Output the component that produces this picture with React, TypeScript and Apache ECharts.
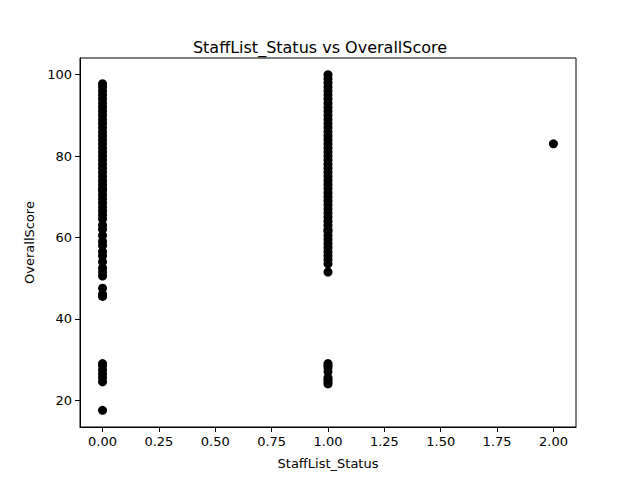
import { useEffect, useRef } from 'react'
import * as echarts from 'echarts'

const status0Scores = [
  17.5, 24.5, 25.5, 26.5, 27.5, 28.5, 29, 45.5, 46, 47.5, 50.5, 51.5, 52.5, 54,
  55.5, 56.5, 58, 59, 60.5, 62, 63, 64.5, 65.5, 66.5, 67.5, 68.5, 69.5, 70.5,
  71.5, 72, 73, 74, 75, 76, 77, 78, 79, 80, 81, 82, 83, 84, 85, 86, 87, 88, 89,
  90, 91, 92, 93, 94, 95, 96, 97, 97.8
]
const status1Scores = [
  24, 24.5, 25, 25.5, 27, 28, 28.5, 29, 51.5, 53.5, 54.5, 55.5, 56.5, 57.5,
  58.5, 59.5, 60.5, 61.5, 62, 63, 64, 65, 66, 67, 68, 69, 70, 71, 72, 73, 74,
  75, 76, 77, 78, 79, 80, 81, 82, 83, 84, 85, 86, 87, 88, 89, 90, 91, 92, 93,
  94, 95, 96, 97, 98, 99, 100
]
const status2Scores = [83]
const xTicks = [0, 0.25, 0.5, 0.75, 1, 1.25, 1.5, 1.75, 2]
const yTicks = [20, 40, 60, 80, 100]

export default function App() {
  const ref = useRef<HTMLDivElement | null>(null)

  useEffect(() => {
    if (!ref.current) return
    const chart = echarts.init(ref.current, undefined, { renderer: 'svg' })
    const points = [
      ...status0Scores.map((v) => [0, v]),
      ...status1Scores.map((v) => [1, v]),
      ...status2Scores.map((v) => [2, v])
    ]
    const font = 'DejaVu Sans'
    const axisCommon = {
      axisLine: { show: true, onZero: false, lineStyle: { color: '#000', width: 1 } },
      axisTick: { show: true, inside: false, length: 5, lineStyle: { color: '#000' } },
      splitLine: { show: false },
      axisLabel: { color: '#000', fontSize: 13, fontFamily: font },
      nameTextStyle: { color: '#000', fontSize: 13, fontFamily: font }
    }
    chart.setOption({
      animation: false,
      backgroundColor: '#fff',
      title: {
        text: 'StaffList_Status vs OverallScore',
        left: 'center',
        top: 34,
        textStyle: { color: '#000', fontSize: 16, fontWeight: 'normal', fontFamily: font }
      },
      grid: {
        left: 80,
        right: 64,
        top: 58,
        bottom: 53,
        show: true,
        borderColor: '#000',
        borderWidth: 1
      },
      xAxis: {
        type: 'value',
        min: -0.1,
        max: 2.1,
        name: 'StaffList_Status',
        nameLocation: 'middle',
        nameGap: 30,
        ...axisCommon,
        axisTick: { ...axisCommon.axisTick, customValues: xTicks },
        axisLabel: {
          ...axisCommon.axisLabel,
          customValues: xTicks,
          formatter: (v: number) => v.toFixed(2)
        }
      },
      yAxis: {
        type: 'value',
        min: 13.4,
        max: 104.1,
        name: 'OverallScore',
        nameLocation: 'middle',
        nameGap: 40,
        ...axisCommon,
        axisTick: { ...axisCommon.axisTick, customValues: yTicks },
        axisLabel: { ...axisCommon.axisLabel, customValues: yTicks }
      },
      series: [
        {
          type: 'scatter',
          data: points,
          symbolSize: 9,
          itemStyle: { color: '#000', opacity: 1 }
        }
      ]
    })
    return () => chart.dispose()
  }, [])

  return <div ref={ref} style={{ width: 640, height: 480, marginLeft: -8, marginTop: -8 }} />
}
